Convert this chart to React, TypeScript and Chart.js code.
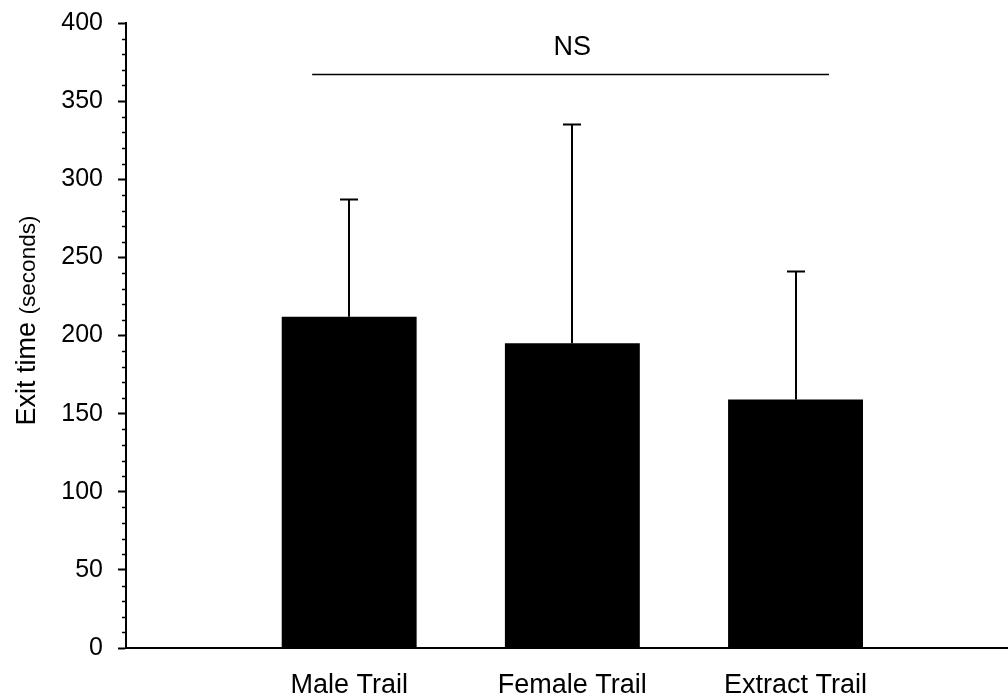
import React, { useEffect, useRef } from "react";
import { Chart, registerables } from "chart.js";

Chart.register(...registerables);

// ---- data ----
const categories = ["Male Trail", "Female Trail", "Extract Trail"];
const categoryPositions = [1, 2, 3];
const meanExitTime = [212, 195, 159];
const errorUpper = [75, 140, 82];
const yMajorStep = 50;
const yMinorStep = 10;
const yMin = 0;
const yMax = 400;
const xMin = 0;
const xMax = 3.952;
const significanceLabel = "NS";
const significanceFrom = 0.834;
const significanceTo = 3.15;
const significanceY = 367;
const significanceTextY = 384;
const yTitleMain = "Exit time ";
const yTitleUnit = "(seconds)";

const FONT = "'Liberation Sans', Arial, Helvetica, sans-serif";

export default function App() {
  const ref = useRef<HTMLCanvasElement>(null);

  useEffect(() => {
    document.body.style.margin = "0";
    const canvas = ref.current!;

    const annotations = {
      id: "annotations",
      afterDraw(chart: any) {
        const ctx = chart.ctx;
        const xs = chart.scales.x;
        const ys = chart.scales.y;
        ctx.save();
        // minor ticks
        ctx.strokeStyle = "#000";
        ctx.lineWidth = 1.5;
        const left = chart.chartArea.left;
        for (let v = yMin; v <= yMax; v += yMinorStep) {
          if (v % yMajorStep === 0) continue;
          const y = Math.round(ys.getPixelForValue(v)) + 0.5;
          ctx.beginPath();
          ctx.moveTo(left - 4, y);
          ctx.lineTo(left, y);
          ctx.stroke();
        }
        // error bars
        const meta = chart.getDatasetMeta(0);
        ctx.lineWidth = 2;
        meta.data.forEach((bar: any, i: number) => {
          const x = Math.round(bar.x);
          const top = ys.getPixelForValue(meanExitTime[i] + errorUpper[i]);
          ctx.beginPath();
          ctx.moveTo(x, bar.y);
          ctx.lineTo(x, top);
          ctx.moveTo(x - 9, top);
          ctx.lineTo(x + 9, top);
          ctx.stroke();
        });
        // significance line
        ctx.lineWidth = 1.5;
        const ly = ys.getPixelForValue(significanceY);
        ctx.beginPath();
        ctx.moveTo(xs.getPixelForValue(significanceFrom), ly);
        ctx.lineTo(xs.getPixelForValue(significanceTo), ly);
        ctx.stroke();
        ctx.fillStyle = "#000";
        ctx.font = `27px ${FONT}`;
        ctx.textAlign = "center";
        ctx.textBaseline = "middle";
        ctx.fillText(significanceLabel, xs.getPixelForValue(2), ys.getPixelForValue(significanceTextY));
        // y title
        const bigFont = `27px ${FONT}`;
        const smallFont = `22.5px ${FONT}`;
        ctx.font = bigFont;
        const w1 = ctx.measureText(yTitleMain).width;
        ctx.font = smallFont;
        const w2 = ctx.measureText(yTitleUnit).width;
        const cy = (chart.chartArea.top + chart.chartArea.bottom) / 2 - 15;
        ctx.translate(35, cy);
        ctx.rotate(-Math.PI / 2);
        ctx.textAlign = "left";
        ctx.textBaseline = "alphabetic";
        const start = -(w1 + w2) / 2;
        ctx.font = bigFont;
        ctx.fillText(yTitleMain, start, 0);
        ctx.font = smallFont;
        ctx.fillText(yTitleUnit, start + w1, 0);
        ctx.restore();
      },
    };

    const chart = new Chart(canvas, {
      type: "bar",
      data: {
        datasets: [
          {
            data: categoryPositions.map((x, i) => ({ x, y: meanExitTime[i] })),
            backgroundColor: "#000",
            borderWidth: 0,
            categoryPercentage: 1,
            barPercentage: 0.635,
          },
        ],
      },
      options: {
        animation: false,
        responsive: false,
        maintainAspectRatio: false,
        layout: { padding: { top: 23, right: 0, left: 0, bottom: 0 } },
        plugins: { legend: { display: false }, tooltip: { enabled: false } },
        scales: {
          x: {
            type: "linear",
            min: xMin,
            max: xMax,
            offset: false,
            grid: { display: false, drawTicks: false },
            border: { color: "#000", width: 2 },
            ticks: {
              stepSize: 1,
              autoSkip: false,
              maxRotation: 0,
              color: "#000",
              padding: 21,
              font: { family: FONT, size: 27 },
              callback: (v: any) =>
                Number.isInteger(v) ? categories[v - 1] ?? "" : "",
            },
            afterFit: (s: any) => {
              s.height = 50;
              s.paddingRight = 0;
              s.paddingLeft = 0;
            },
          },
          y: {
            min: yMin,
            max: yMax,
            grid: {
              drawOnChartArea: false,
              drawTicks: true,
              tickLength: 8,
              tickColor: "#000",
              tickWidth: 2,
            },
            border: { color: "#000", width: 2 },
            ticks: {
              stepSize: yMajorStep,
              color: "#000",
              padding: 15,
              font: { family: FONT, size: 25 },
            },
            afterFit: (s: any) => {
              s.width = 126;
              s.paddingTop = 0;
              s.paddingBottom = 0;
            },
          },
        },
      },
      plugins: [annotations],
    } as any);

    return () => chart.destroy();
  }, []);

  return (
    <div style={{ width: 1008, height: 698, background: "#fff" }}>
      <canvas ref={ref} width={1008} height={698} style={{ display: "block" }} />
    </div>
  );
}
